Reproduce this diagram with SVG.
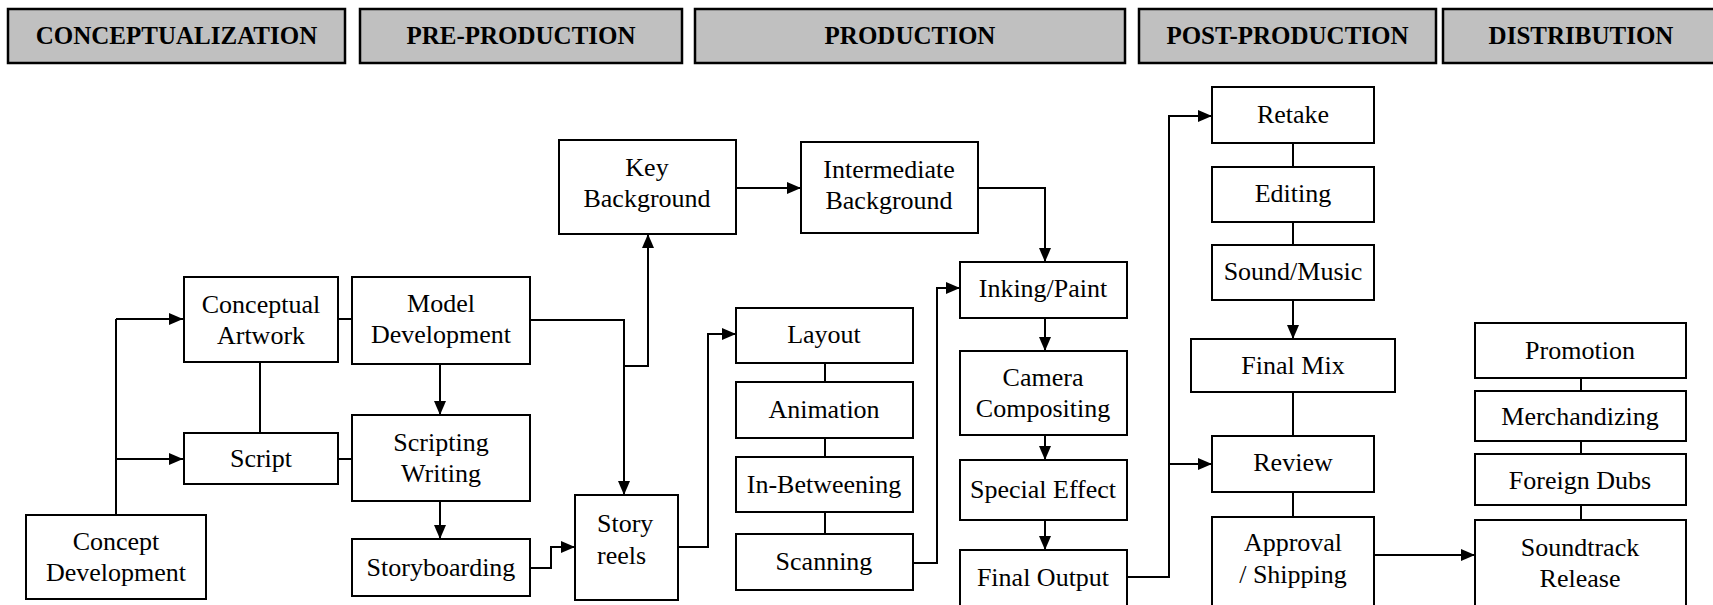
<svg xmlns="http://www.w3.org/2000/svg" width="1713" height="605" viewBox="0 0 1713 605">
  <style>
    .hdr rect { fill: #c0c0c0; stroke: #000; stroke-width: 2.5; }
    .hdr text { font-family: "Liberation Serif", serif; font-weight: bold; font-size: 25px; text-anchor: middle; fill: #000; }
    .node rect { fill: #fff; stroke: #000; stroke-width: 2; }
    .node text { font-family: "Liberation Serif", serif; font-size: 26px; text-anchor: middle; fill: #000; }
    .node text.left { text-anchor: start; }
    .edges path { fill: none; stroke: #000; stroke-width: 2; }
    .edges path.arr { marker-end: url(#tip); }
  </style>
  <defs>
    <marker id="tip" viewBox="0 0 14 12" refX="14" refY="6" markerWidth="14" markerHeight="12" markerUnits="userSpaceOnUse" orient="auto">
      <path d="M0,0 L14,6 L0,12 Z" fill="#000"/>
    </marker>
  </defs>
  <rect width="1713" height="605" fill="#fff"/>

  <!-- phase headers -->
  <g id="hdr-concept" class="hdr"><rect x="8" y="9" width="337" height="54"/><text x="176.5" y="44">CONCEPTUALIZATION</text></g>
  <g id="hdr-pre" class="hdr"><rect x="360" y="9" width="322" height="54"/><text x="521" y="44">PRE-PRODUCTION</text></g>
  <g id="hdr-prod" class="hdr"><rect x="695" y="9" width="430" height="54"/><text x="910" y="44">PRODUCTION</text></g>
  <g id="hdr-post" class="hdr"><rect x="1139" y="9" width="297" height="54"/><text x="1287.5" y="44">POST-PRODUCTION</text></g>
  <g id="hdr-dist" class="hdr"><rect x="1443" y="9" width="280" height="54"/><text x="1581" y="44">DISTRIBUTION</text></g>

  <!-- connectors -->
  <g id="connectors" class="edges">
    <path d="M116,515 V319"/>
    <path class="arr" d="M116,319 H183"/>
    <path class="arr" d="M116,459 H183"/>
    <path d="M260,362 V433"/>
    <path d="M338,319 H352"/>
    <path d="M338,459 H352"/>
    <path class="arr" d="M440,364 V415"/>
    <path class="arr" d="M440,501 V539"/>
    <path class="arr" d="M530,568 H551 V547 H575"/>
    <path class="arr" d="M530,320 H624 V495"/>
    <path class="arr" d="M624,366 H648 V234"/>
    <path class="arr" d="M736,188 H801"/>
    <path class="arr" d="M978,188 H1045 V262"/>
    <path class="arr" d="M678,547 H708 V334 H736"/>
    <path d="M825,363 V382"/>
    <path d="M825,438 V457"/>
    <path d="M825,512 V534"/>
    <path class="arr" d="M913,563 H937 V288 H960"/>
    <path class="arr" d="M1045,318 V351"/>
    <path class="arr" d="M1045,435 V460"/>
    <path class="arr" d="M1045,520 V550"/>
    <path class="arr" d="M1127,577 H1169 V116 H1212"/>
    <path class="arr" d="M1169,464 H1212"/>
    <path d="M1293,143 V167"/>
    <path d="M1293,222 V245"/>
    <path class="arr" d="M1293,300 V339"/>
    <path d="M1293,392 V436"/>
    <path d="M1293,492 V517"/>
    <path class="arr" d="M1374,555 H1475"/>
    <path d="M1581,378 V391"/>
    <path d="M1581,441 V454"/>
    <path d="M1581,505 V520"/>
  </g>

  <!-- conceptualization -->
  <g id="concept-development" class="node"><rect x="26" y="515" width="180" height="84"/><text x="116" y="550">Concept</text><text x="116" y="581">Development</text></g>
  <g id="conceptual-artwork" class="node"><rect x="184" y="277" width="154" height="85"/><text x="261" y="313">Conceptual</text><text x="261" y="344">Artwork</text></g>
  <g id="script" class="node"><rect x="184" y="433" width="154" height="51"/><text x="261" y="467">Script</text></g>

  <!-- pre-production -->
  <g id="model-development" class="node"><rect x="352" y="277" width="178" height="87"/><text x="441" y="312">Model</text><text x="441" y="343">Development</text></g>
  <g id="scripting-writing" class="node"><rect x="352" y="415" width="178" height="86"/><text x="441" y="451">Scripting</text><text x="441" y="482">Writing</text></g>
  <g id="storyboarding" class="node"><rect x="352" y="539" width="178" height="57"/><text x="441" y="576">Storyboarding</text></g>
  <g id="story-reels" class="node"><rect x="575" y="495" width="103" height="105"/><text class="left" x="597" y="532">Story</text><text class="left" x="597" y="564">reels</text></g>

  <!-- production -->
  <g id="key-background" class="node"><rect x="559" y="140" width="177" height="94"/><text x="647" y="176">Key</text><text x="647" y="207">Background</text></g>
  <g id="intermediate-background" class="node"><rect x="801" y="142" width="177" height="91"/><text x="889" y="178">Intermediate</text><text x="889" y="209">Background</text></g>
  <g id="layout" class="node"><rect x="736" y="308" width="177" height="55"/><text x="824" y="343">Layout</text></g>
  <g id="animation" class="node"><rect x="736" y="382" width="177" height="56"/><text x="824" y="418">Animation</text></g>
  <g id="in-betweening" class="node"><rect x="736" y="457" width="177" height="55"/><text x="824" y="493">In-Betweening</text></g>
  <g id="scanning" class="node"><rect x="736" y="534" width="177" height="56"/><text x="824" y="570">Scanning</text></g>
  <g id="inking-paint" class="node"><rect x="960" y="262" width="167" height="56"/><text x="1043" y="297">Inking/Paint</text></g>
  <g id="camera-compositing" class="node"><rect x="960" y="351" width="167" height="84"/><text x="1043" y="386">Camera</text><text x="1043" y="417">Compositing</text></g>
  <g id="special-effect" class="node"><rect x="960" y="460" width="167" height="60"/><text x="1043" y="498">Special Effect</text></g>
  <g id="final-output" class="node"><rect x="960" y="550" width="167" height="70"/><text x="1043" y="586">Final Output</text></g>

  <!-- post-production -->
  <g id="retake" class="node"><rect x="1212" y="87" width="162" height="56"/><text x="1293" y="123">Retake</text></g>
  <g id="editing" class="node"><rect x="1212" y="167" width="162" height="55"/><text x="1293" y="202">Editing</text></g>
  <g id="sound-music" class="node"><rect x="1212" y="245" width="162" height="55"/><text x="1293" y="280">Sound/Music</text></g>
  <g id="final-mix" class="node"><rect x="1191" y="339" width="204" height="53"/><text x="1293" y="374">Final Mix</text></g>
  <g id="review" class="node"><rect x="1212" y="436" width="162" height="56"/><text x="1293" y="471">Review</text></g>
  <g id="approval-shipping" class="node"><rect x="1212" y="517" width="162" height="100"/><text x="1293" y="551">Approval</text><text x="1293" y="583">/ Shipping</text></g>

  <!-- distribution -->
  <g id="promotion" class="node"><rect x="1475" y="323" width="211" height="55"/><text x="1580" y="359">Promotion</text></g>
  <g id="merchandizing" class="node"><rect x="1475" y="391" width="211" height="50"/><text x="1580" y="425">Merchandizing</text></g>
  <g id="foreign-dubs" class="node"><rect x="1475" y="454" width="211" height="51"/><text x="1580" y="489">Foreign Dubs</text></g>
  <g id="soundtrack-release" class="node"><rect x="1475" y="520" width="211" height="100"/><text x="1580" y="556">Soundtrack</text><text x="1580" y="587">Release</text></g>
</svg>
